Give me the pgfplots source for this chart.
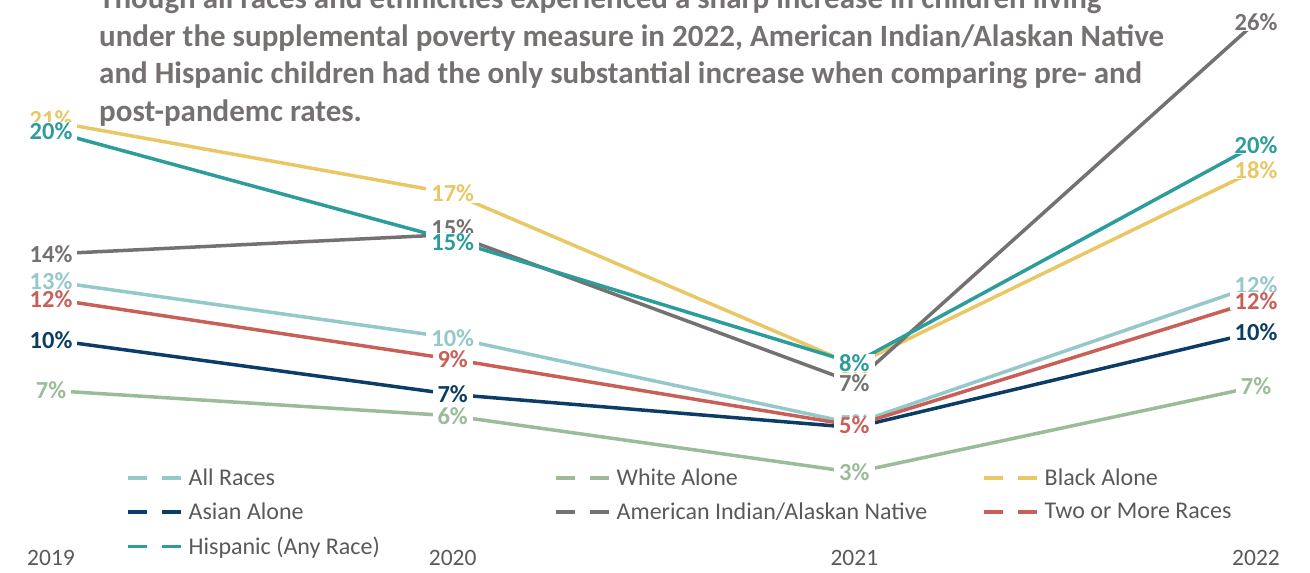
\documentclass[border=0pt]{standalone}
\usepackage{fontspec}
\setmainfont{Carlito}
\usepackage{pgfplots}
\pgfplotsset{compat=1.18}
\definecolor{cAll}{RGB}{148,200,201}
\definecolor{cWhite}{RGB}{155,188,152}
\definecolor{cBlack}{RGB}{233,199,101}
\definecolor{cAsian}{RGB}{12,61,102}
\definecolor{cAian}{RGB}{118,113,113}
\definecolor{cTwo}{RGB}{201,96,88}
\definecolor{cHisp}{RGB}{44,157,155}
\definecolor{titlegray}{RGB}{118,113,113}
\definecolor{textgray}{RGB}{89,89,89}
\pgfplotsset{
  lbl/.style={draw=none, mark=none, forget plot, nodes near coords,
    point meta=explicit symbolic,
    every node near coord/.append style={text=#1, fill=white, anchor=center,
      font=\bfseries\fontsize{24.5}{24.5}\selectfont, inner xsep=5pt, inner ysep=0.5pt}},
}
\newcommand{\lentry}[1]{\makebox[367.5pt][l]{\hspace*{4pt}#1}}
\begin{document}
\begin{tikzpicture}
\begin{axis}[
  at={(0pt,0pt)}, anchor=south west,
  scale only axis, width=1310pt, height=573pt,
  xmin=-0.127, xmax=3.1344, ymin=-2.359, ymax=27.026,
  axis line style={draw=none}, tick style={draw=none}, major tick length=0pt,
  xtick={0,1,2,3}, xticklabels={2019,2020,2021,2022}, ytick=\empty,
  xticklabel style={font=\fontsize{23.5}{27}\selectfont, text=textgray, anchor=base, yshift=7pt},
  clip=false,
  legend columns=3,
  legend cell align=left,
  legend style={at={(rel axis cs:0.0939,0.1894)}, anchor=north west, draw=none, fill=none,
    font=\fontsize{24}{26}\selectfont, text=textgray, row sep=12pt},
  legend image code/.code={\draw[#1, line width=3.5pt, dash pattern=on 19pt off 15pt] (0pt,0pt) -- (53pt,0pt);},
  every axis plot/.append style={line width=3.5pt},
]
\addplot[color=cAll] coordinates {(0,12.6) (1,9.7) (2,5.3) (3,12.4)};
\addlegendentry{\lentry{All Races}}
\addplot[color=cWhite] coordinates {(0,7.0) (1,5.7) (2,2.8) (3,7.2)};
\addlegendentry{\lentry{White Alone}}
\addplot[color=cBlack] coordinates {(0,20.8) (1,17.1) (2,8.3) (3,18.3)};
\addlegendentry{\lentry{Black Alone}}
\addplot[color=cAsian] coordinates {(0,9.6) (1,6.8) (2,5.1) (3,10.0)};
\addlegendentry{\lentry{Asian Alone}}
\addplot[color=cAian] coordinates {(0,14.0) (1,15.0) (2,7.4) (3,25.9)};
\addlegendentry{\lentry{American Indian/Alaskan Native}}
\addplot[color=cTwo] coordinates {(0,11.7) (1,8.6) (2,5.2) (3,11.6)};
\addlegendentry{\lentry{Two or More Races}}
\addplot[color=cHisp] coordinates {(0,20.3) (1,14.7) (2,8.4) (3,19.6)};
\addlegendentry{\lentry{Hispanic (Any Race)}}

\addplot[lbl=cAll] coordinates {(0,12.6) [13\%] (1,9.7) [10\%] (2,5.3) [5\%] (3,12.4) [12\%]};
\addplot[lbl=cWhite] coordinates {(0,7.0) [7\%] (1,5.7) [6\%] (2,2.8) [3\%] (3,7.2) [7\%]};
\addplot[lbl=cBlack, every node near coord/.append style={yshift=2pt}] coordinates {(0,20.8) [21\%]};
\addplot[lbl=cBlack] coordinates {(1,17.1) [17\%] (2,8.3) [8\%] (3,18.3) [18\%]};
\addplot[lbl=cAsian] coordinates {(0,9.6) [10\%] (1,6.8) [7\%] (2,5.1) [5\%] (3,10.0) [10\%]};
\addplot[lbl=cAian] coordinates {(0,14.0) [14\%] (2,7.4) [7\%] (3,25.9) [26\%]};
\addplot[lbl=cAian, every node near coord/.append style={yshift=6pt}] coordinates {(1,15.0) [15\%]};
\addplot[lbl=cTwo] coordinates {(0,11.7) [12\%] (1,8.6) [9\%] (2,5.2) [5\%] (3,11.6) [12\%]};
\addplot[lbl=cHisp] coordinates {(0,20.3) [20\%] (2,8.4) [8\%] (3,19.6) [20\%]};
\addplot[lbl=cHisp, every node near coord/.append style={yshift=-2pt}] coordinates {(1,14.7) [15\%]};
\end{axis}
\begin{scope}[every node/.style={anchor=base west, inner sep=0pt, text=titlegray, font=\bfseries\fontsize{31}{37}\selectfont}]
\node at (99pt,564.5pt) {Though all races and ethnicities experienced a sharp increase in children living};
\node at (99pt,526.5pt) {under the supplemental poverty measure in 2022, American Indian/Alaskan Native};
\node at (99pt,489pt) {and Hispanic children had the only substantial increase when comparing pre- and};
\node at (99pt,451.5pt) {post-pandemc rates.};
\end{scope}
\pgfresetboundingbox
\useasboundingbox (0pt,0pt) rectangle (1310pt,573pt);
\end{tikzpicture}
\end{document}
